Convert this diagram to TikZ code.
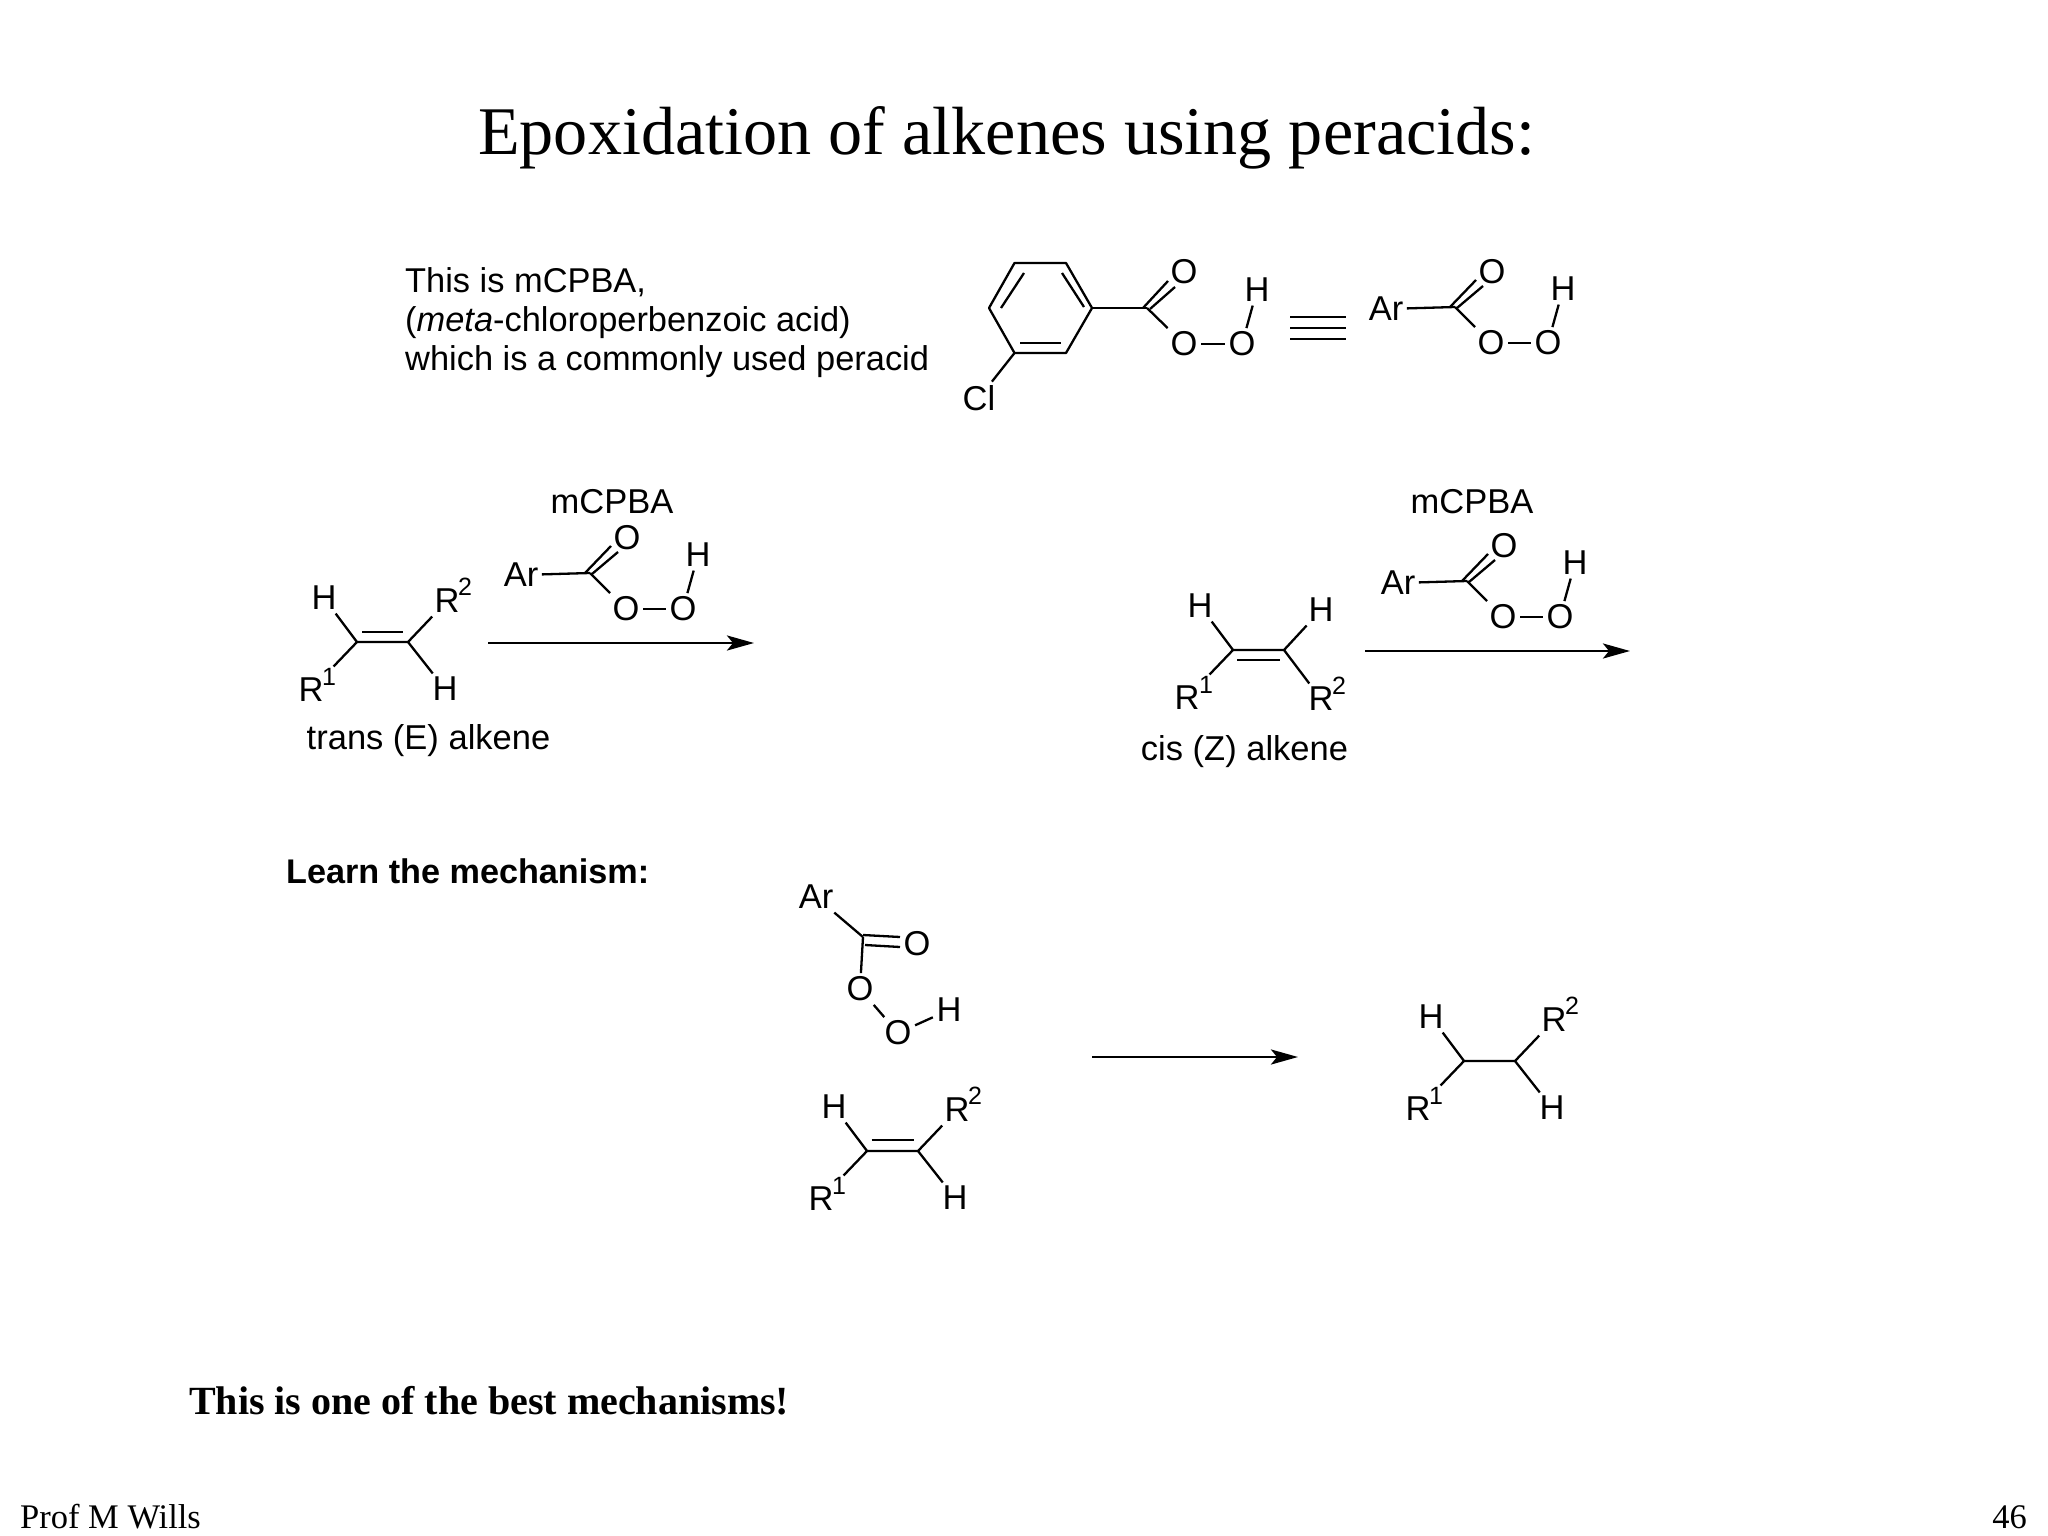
\documentclass[tikz,border=0pt]{standalone}
\usepackage{fontspec}
\setmainfont{Liberation Serif}
\setsansfont{Liberation Sans}
\usetikzlibrary{arrows.meta}
\tikzset{
  x=1pt,y=-1pt,
  bond/.style={line width=2.3pt,line cap=butt,line join=round},
  rxnarrow/.style={line width=2.8pt,-{Stealth[length=27pt,width=15pt,inset=6pt]}},
  atom/.style={inner sep=3.5pt,font=\fontsize{34.5}{40}\selectfont\sffamily},
  supnum/.style={inner sep=0pt,font=\fontsize{25}{28}\selectfont\sffamily},
  sanslabel/.style={inner sep=0pt,font=\fontsize{34.5}{39}\selectfont\sffamily},
  clearsup/.style={shorten <=11pt},
}
% #1 prefix, #2 x, #3 y of the carbonyl carbon
\newcommand{\peracidAr}[3]{%
  \begin{scope}[shift={(#2,#3)}]
    \coordinate (#1C) at (0,0);
    \node[atom] (#1Ar) at (-69,2) {Ar};
    \node[atom] (#1Ocarb) at (37,-35) {O};
    \node[atom] (#1Oa) at (36,36) {O};
    \node[atom] (#1Ob) at (93,36) {O};
    \node[atom] (#1H) at (108,-18) {H};
    \coordinate (#1da) at (-5,0);
    \coordinate (#1db) at (21,-27);
    \coordinate (#1dc) at (2,1);
    \coordinate (#1dd) at (28,-21);
    \draw[bond] (#1Ar) -- (#1C);
    \draw[bond] (#1da) -- (#1db);
    \draw[bond] (#1dc) -- (#1dd);
    \draw[bond] (#1C) -- (#1Oa);
    \draw[bond] (#1Oa) -- (#1Ob);
    \draw[bond] (#1Ob) -- (#1H);
  \end{scope}}
% trans skeleton: #1 prefix, #2 x, #3 y of left carbon
\newcommand{\transskel}[3]{%
  \begin{scope}[shift={(#2,#3)}]
    \coordinate (#1Ca) at (0,0);
    \coordinate (#1Cb) at (51,0);
    \node[atom] (#1Ha) at (-33,-44) {H};
    \node[atom] (#1Rb) at (90,-41) {R};
    \node[supnum] (#1sb) at (108,-55) {2};
    \node[atom] (#1Ra) at (-46,48) {R};
    \node[supnum] (#1sa) at (-28,35) {1};
    \node[atom] (#1Hb) at (88,47) {H};
    \draw[bond] (#1Ha) -- (#1Ca) -- (#1Cb) -- (#1Rb);
    \draw[bond,clearsup] (#1Ra) -- (#1Ca);
    \draw[bond] (#1Cb) -- (#1Hb);
  \end{scope}}
\begin{document}
\begin{tikzpicture}
\useasboundingbox (0,0) rectangle (2048,1536);
\fill[white] (0,0) rectangle (2048,1536);

% title and plain texts
\node[anchor=base west,inner sep=0pt,font=\fontsize{68.2}{74}\selectfont] (title) at (478,154) {Epoxidation of alkenes using peracids:};
\node[anchor=north west,sanslabel,font=\fontsize{34.4}{39}\selectfont\sffamily,align=left] (intro) at (405,267) {This is mCPBA,\\(\textit{meta}-chloroperbenzoic acid)\\which is a commonly used peracid};
\node[anchor=base west,sanslabel,font=\fontsize{34.2}{39}\selectfont\sffamily\bfseries] (learn) at (286,883) {Learn the mechanism:};
\node[anchor=base west,inner sep=0pt,font=\fontsize{40}{46}\selectfont\bfseries] (best) at (189,1414) {This is one of the best mechanisms!};
\node[anchor=base west,inner sep=0pt,font=\fontsize{34.5}{38}\selectfont] (prof) at (20,1528) {Prof M Wills};
\node[anchor=base east,inner sep=0pt,font=\fontsize{34.5}{38}\selectfont] (page) at (2027,1528) {46};

% mCPBA with ring
\coordinate (r1) at (1014.5,263);
\coordinate (r2) at (1066,263);
\coordinate (r3) at (1092,308);
\coordinate (r4) at (1066,353);
\coordinate (r5) at (1014.5,353);
\coordinate (r6) at (989,308);
\draw[bond] (r1) -- (r2) -- (r3) -- (r4) -- (r5) -- (r6) -- cycle;
\coordinate (ia) at (1001,308);
\coordinate (ib) at (1024,273);
\coordinate (ic) at (1084,307);
\coordinate (id) at (1062,273);
\coordinate (ie) at (1020,343);
\coordinate (if) at (1061,343);
\draw[bond] (ia) -- (ib);
\draw[bond] (ic) -- (id);
\draw[bond] (ie) -- (if);
\node[atom] (Cl) at (979,398) {Cl};
\draw[bond] (r5) -- (Cl);
\coordinate (mC) at (1147,308);
\draw[bond] (r3) -- (mC);
\node[atom] (mOc) at (1184,272) {O};
\node[atom] (mOa) at (1184,344) {O};
\node[atom] (mOb) at (1242,344) {O};
\node[atom] (mH) at (1257,290) {H};
\coordinate (mda) at (1143,308);
\coordinate (mdb) at (1168,281);
\coordinate (mdc) at (1150,309);
\coordinate (mdd) at (1175,287);
\draw[bond] (mda) -- (mdb);
\draw[bond] (mdc) -- (mdd);
\draw[bond] (mC) -- (mOa);
\draw[bond] (mOa) -- (mOb);
\draw[bond] (mOb) -- (mH);

% equivalence sign
\foreach \yy in {317,328,339}
  \draw[line width=2.6pt] (1290,\yy) -- (1346,\yy);

\peracidAr{h}{1455}{307}

% trans reaction
\node[anchor=base,sanslabel] (mcpbaa) at (612,513) {mCPBA};
\peracidAr{a}{590}{573}
\transskel{t}{357}{642}
\coordinate (tia) at (362,632);
\coordinate (tib) at (403,632);
\draw[bond] (tia) -- (tib);
\node[anchor=base,sanslabel] (translabel) at (428.5,749) {trans (E) alkene};
\coordinate (aas) at (488,643);
\coordinate (aae) at (754,643);
\draw[rxnarrow] (aas) -- (aae);

% cis reaction
\node[anchor=base,sanslabel] (mcpbab) at (1472,513) {mCPBA};
\peracidAr{b}{1467}{581}
\coordinate (cCa) at (1233,650);
\coordinate (cCb) at (1284,650);
\node[atom] (cHa) at (1200,606) {H};
\node[atom] (cHb) at (1321,610) {H};
\node[atom] (cRa) at (1187,698) {R};
\node[supnum] (csa) at (1206,685) {1};
\node[atom] (cRb) at (1321,699) {R};
\node[supnum] (csb) at (1339,686) {2};
\draw[bond] (cHa) -- (cCa) -- (cCb) -- (cHb);
\draw[bond,clearsup] (cRa) -- (cCa);
\draw[bond] (cCb) -- (cRb);
\coordinate (cia) at (1237,660);
\coordinate (cib) at (1280,660);
\draw[bond] (cia) -- (cib);
\node[anchor=base,sanslabel] (cislabel) at (1244.5,760) {cis (Z) alkene};
\coordinate (abs) at (1365,651);
\coordinate (abe) at (1630,651);
\draw[rxnarrow] (abs) -- (abe);

% mechanism
\node[atom] (pAr) at (816,897) {Ar};
\coordinate (pC) at (863,937);
\node[atom] (pOc) at (917,944) {O};
\node[atom] (pOa) at (860,989) {O};
\node[atom] (pOb) at (898,1033) {O};
\node[atom] (pH) at (949,1010) {H};
\coordinate (pda) at (863,935);
\coordinate (pdb) at (900,937);
\coordinate (pdc) at (865,945);
\coordinate (pdd) at (900,947);
\draw[bond] (pAr) -- (pC);
\draw[bond] (pda) -- (pdb);
\draw[bond] (pdc) -- (pdd);
\draw[bond] (pC) -- (pOa);
\draw[bond] (pOa) -- (pOb);
\draw[bond] (pOb) -- (pH);
\transskel{m}{867}{1151}
\coordinate (mia) at (871.5,1140);
\coordinate (mib) at (913.5,1140);
\draw[bond] (mia) -- (mib);
\coordinate (acs) at (1092,1057);
\coordinate (ace) at (1298,1057);
\draw[rxnarrow] (acs) -- (ace);
\transskel{q}{1464}{1061}
\end{tikzpicture}
\end{document}
